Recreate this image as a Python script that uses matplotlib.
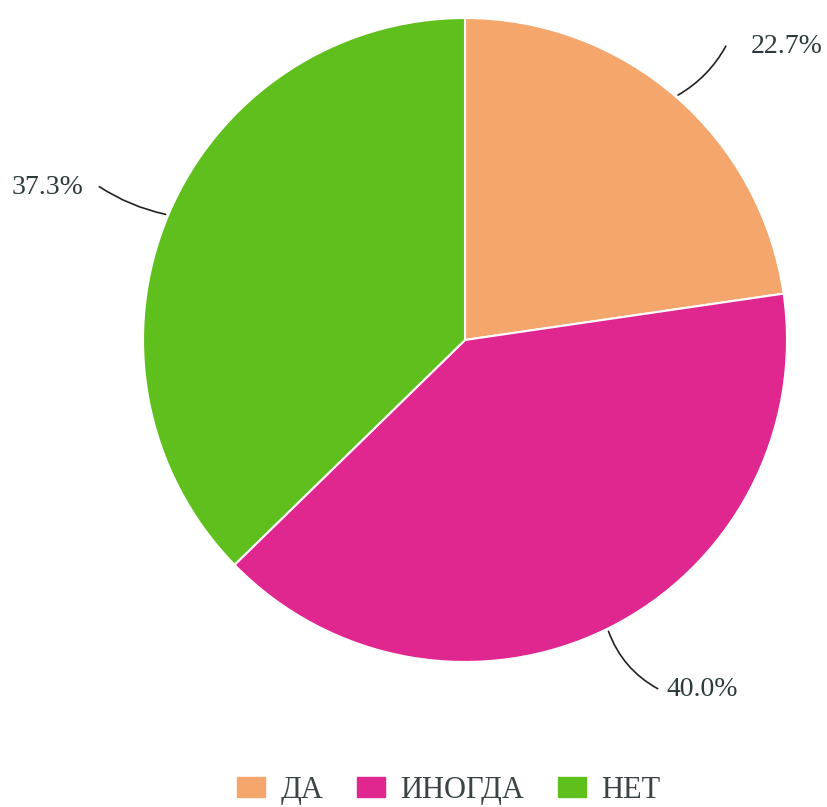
import matplotlib
matplotlib.use("Agg")
import matplotlib.pyplot as plt
import numpy as np

categories = ["ДА", "ИНОГДА", "НЕТ"]
values = [22.7, 40.0, 37.3]
colors = ["#F5A66C", "#E0268F", "#5FBF1C"]
label_pos = [(0.886, 0.913), (0.627, -1.087), (-1.186, 0.474)]
line_end = [(0.814, 0.92), (0.606, -1.087), (-1.143, 0.481)]
label_ha = ["left", "left", "right"]
curv = [-0.15, -0.2, 0.1]

plt.rcParams['font.family'] = ['Liberation Serif', 'DejaVu Serif']

fig = plt.figure(figsize=(8.28, 8.07), dpi=100)
ax = fig.add_axes([0.1727, 0.1797, 0.7778, 0.798])
wedges, _ = ax.pie(values, colors=colors, startangle=90, counterclock=False,
                   radius=1.0, wedgeprops=dict(edgecolor="white", linewidth=1.5))
ax.set_xlim(-1, 1)
ax.set_ylim(-1, 1)
ax.set_aspect("equal")
ax.axis("off")

total = sum(values)
start = 90.0
for i, v in enumerate(values):
    mid = start - v / total * 360 / 2
    start -= v / total * 360
    a = np.deg2rad(mid)
    ex, ey = np.cos(a) * 1.0, np.sin(a) * 1.0
    ax.annotate("", xy=(ex, ey), xytext=line_end[i],
                arrowprops=dict(arrowstyle="-", color="#222222", lw=1.2,
                                connectionstyle=f"arc3,rad={curv[i]}"),
                annotation_clip=False)
    ax.text(label_pos[i][0], label_pos[i][1], f"{v:.1f}%", ha=label_ha[i], va="center",
            fontsize=20, color="#2b3a3a", clip_on=False)

handles = [plt.Rectangle((0, 0), 1, 1, color=c) for c in colors]
fig.legend(handles, categories, loc="center", bbox_to_anchor=(0.542, 0.021), ncol=3,
           frameon=False, fontsize=22, handlelength=0.92, handleheight=0.65,
           columnspacing=1.1, handletextpad=0.5, labelcolor="#3a4444",
           borderpad=0.2)

fig.savefig("out.png", dpi=100)
